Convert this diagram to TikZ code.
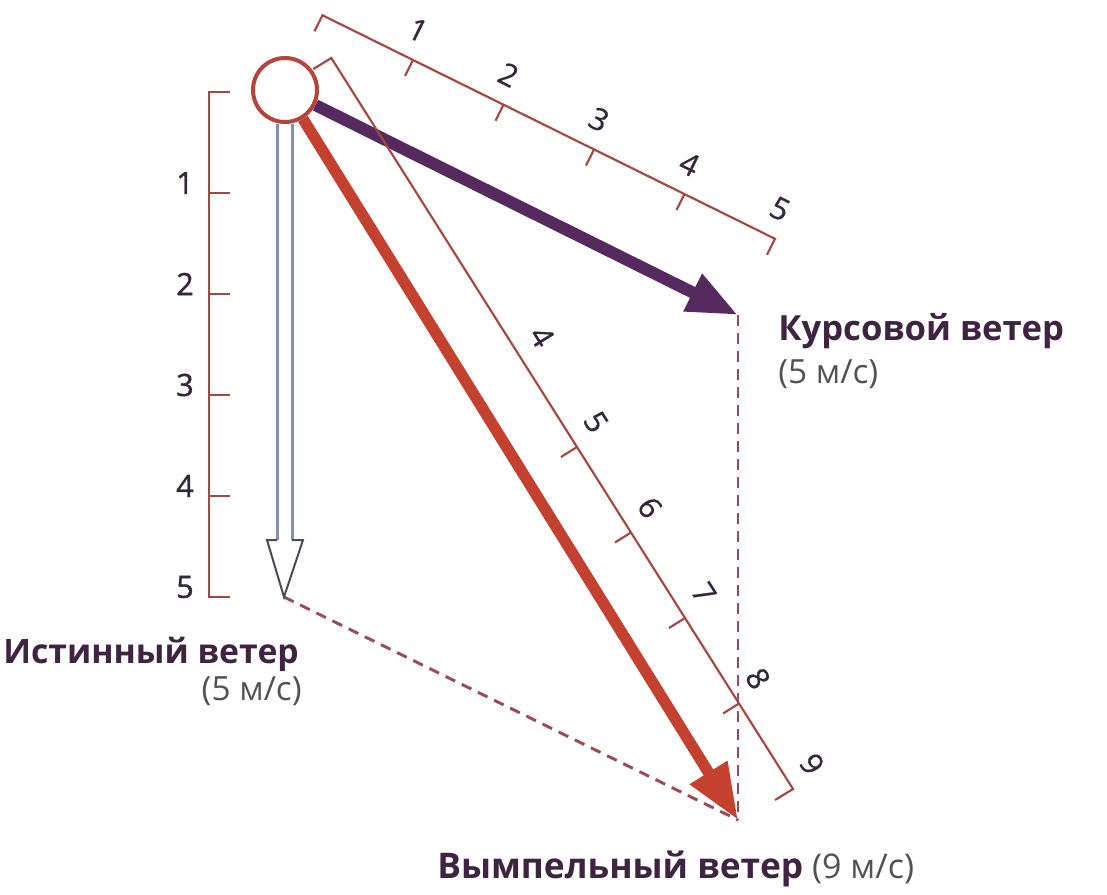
\documentclass[tikz,border=0pt]{standalone}
\usepackage{fontspec}
\setmainfont{Open Sans}
\newfontfamily\digitfont[FakeBold=1.2]{Open Sans}
\newfontfamily\slimdigitfont[FakeBold=0.6]{Open Sans}
\usetikzlibrary{arrows.meta,backgrounds,calc}
\definecolor{circred}{HTML}{B5443A}
\definecolor{awred}{HTML}{C4402F}
\definecolor{cwpurple}{HTML}{562A5E}
\definecolor{scalered}{HTML}{A5463F}
\definecolor{dashred}{HTML}{9A4A58}
\definecolor{shaftblue}{HTML}{8290B2}
\definecolor{headgray}{HTML}{4A4A55}
\definecolor{labeldark}{HTML}{3F2442}
\definecolor{paren}{HTML}{555055}
\definecolor{digit}{HTML}{33283A}
\tikzset{
  scaleline/.style={draw=scalered, line width=1.6pt},
  dashline/.style={draw=dashred, line width=2.2pt, dash pattern=on 8pt off 5.5pt},
  digitlabel/.style={text=digit, font=\slimdigitfont\fontsize{23}{24}\selectfont, inner sep=0pt},
  leftdigit/.style={text=digit, font=\digitfont\fontsize{23}{24}\selectfont, inner sep=0pt},
  mainlabel/.style={text=labeldark, font=\fontsize{26}{30}\selectfont\bfseries, inner sep=0pt},
  sublabel/.style={text=paren, font=\fontsize{25}{30}\selectfont, inner sep=0pt},
  cwarrow/.style={draw=cwpurple, line width=9pt, -{Triangle[length=38pt,width=29pt]}, fill=cwpurple},
  awarrow/.style={draw=awred, line width=8.5pt, -{Triangle[length=42pt,width=31pt]}, fill=awred},
}
\begin{document}
\begin{tikzpicture}[x=0.75pt,y=-0.75pt]
\useasboundingbox (0,0) rectangle (1107,895);

% key points
\node[circle, draw=circred, line width=3pt, fill=white, minimum size=48pt, inner sep=0pt] (c) at (285,90) {};
\coordinate (cw) at (738,315);
\coordinate (aw) at (738,820);
\coordinate (tw) at (284,597);
\coordinate (twb) at (285,540);

% left scale (true wind)
\draw[scaleline] (230,92) -- (209,92) -- (209,597) -- (230,597);
\foreach \k in {1,...,4} {\draw[scaleline] (209,92+101*\k) -- (230,92+101*\k);}
\foreach \k in {1,...,5} {\node[leftdigit] at (185,82+101*\k) {\k};}

% top scale (course wind)
\draw[scaleline] (322.5-8,15.3+16) -- (322.5,15.3) -- (775,238.8) -- (775-8,238.8+16);
\foreach \k in {1,...,4} {\draw[scaleline] (322.5+90.5*\k,15.3+44.7*\k) -- ++(-8,16);}
\foreach \k in {1,...,5} {\node[digitlabel, rotate=-26.3] at (327.5+90.5*\k,-14.7+44.7*\k) {\k};}

% diagonal scale (apparent wind)
\draw[scaleline] (331.3-18,58+11) -- (331.3,58) -- (793,789) -- (793-18,789+11);
\foreach \k in {5,...,8} {\draw[scaleline] (577+54*\k-270,447+85.5*\k-427.5) -- ++(-16,10);}
\foreach \k in {4,...,9} {\node[digitlabel, rotate=-57.7] at (596+54*\k-270,422+85.5*\k-427.5) {\k};}

% dashed construction lines
\draw[dashline] (tw) -- (aw);
\draw[dashline] (cw) -- (aw);

% arrows behind the circle
\begin{scope}[on background layer]
\draw[cwarrow] (c) -- (cw);
\draw[awarrow] (c) -- (aw);
\draw[draw=shaftblue, line width=1.6pt, double=white, double distance=9.6pt] (c) -- (twb);
\end{scope}
\draw[draw=headgray, line width=1.5pt, line join=miter] (277,540) -- (267,540) -- (tw) -- (303,540) -- (292,540);

% labels
\node[mainlabel, anchor=base west] (cwl) at (778,340) {Курсовой ветер};
\node[sublabel, anchor=base west] (cws) at (778,383) {(5 м/с)};
\node[mainlabel, font=\fontsize{25.3}{30}\selectfont\bfseries, anchor=base west] (twl) at (3,663) {Истинный ветер};
\node[sublabel, anchor=base east] (tws) at (302,700) {(5 м/с)};
\node[anchor=base west, inner sep=0pt, font=\fontsize{25.5}{30}\selectfont] (awl) at (437,878) {\textcolor{labeldark}{\fontsize{26.5}{30}\selectfont\bfseries Вымпельный ветер} \textcolor{paren}{(9 м/с)}};
\end{tikzpicture}
\end{document}
